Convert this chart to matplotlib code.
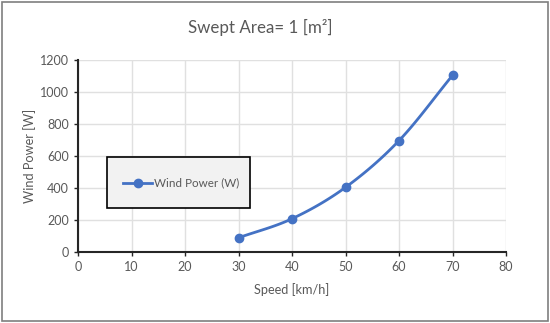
import numpy as np
import matplotlib.pyplot as plt
from matplotlib.patches import Rectangle

# data
speed = [30, 40, 50, 60, 70]
power = [89, 208, 404, 696, 1104]
x_ticks = [0, 10, 20, 30, 40, 50, 60, 70, 80]
y_ticks = [0, 200, 400, 600, 800, 1000, 1200]

plt.rcParams['font.family'] = ['Lato', 'DejaVu Sans']
grey_txt = '#595959'
blue = '#4472C4'


# Excel-like smoothed line (Catmull-Rom through the points)
def smooth(xs, ys, n=30):
    xs = np.asarray(xs, float)
    ys = np.asarray(ys, float)
    px = np.concatenate([[2 * xs[0] - xs[1]], xs, [2 * xs[-1] - xs[-2]]])
    py = np.concatenate([[2 * ys[0] - ys[1]], ys, [2 * ys[-1] - ys[-2]]])
    t = np.linspace(0, 1, n)
    ox, oy = [], []
    for i in range(1, len(px) - 2):
        for arr, out in ((px, ox), (py, oy)):
            p0, p1, p2, p3 = arr[i - 1], arr[i], arr[i + 1], arr[i + 2]
            out.extend(0.5 * (2 * p1 + (-p0 + p2) * t
                              + (2 * p0 - 5 * p1 + 4 * p2 - p3) * t ** 2
                              + (-p0 + 3 * p1 - 3 * p2 + p3) * t ** 3))
    return ox, oy


fig = plt.figure(figsize=(5.5, 3.23), dpi=100)
ax = fig.add_axes([78 / 550, 1 - 252 / 323, 428 / 550, 192 / 323])

sx, sy = smooth(speed, power)
ax.plot(sx, sy, color=blue, lw=2, zorder=3)
ax.plot(speed, power, 'o', color=blue, ms=6, zorder=4)

ax.set_xlim(0, 80)
ax.set_ylim(0, 1200)
ax.set_xticks(x_ticks)
ax.set_yticks(y_ticks)
ax.grid(True, color='#e0e0e0', lw=1)
ax.set_axisbelow(True)
for s in ['top', 'right']:
    ax.spines[s].set_visible(False)
for s in ['left', 'bottom']:
    ax.spines[s].set_color('#262626')
    ax.spines[s].set_linewidth(1.5)
ax.tick_params(colors='#262626', length=3, width=1, labelcolor=grey_txt, labelsize=9)
ax.set_xlabel('Speed [km/h]', color=grey_txt, fontsize=9.2, labelpad=7)
ax.set_ylabel('Wind Power [W]', color=grey_txt, fontsize=9.2, labelpad=3)
fig.text(0.473, 1 - 27 / 323, 'Swept Area= 1 [m²]', ha='center', va='center',
         color=grey_txt, fontsize=12.2)

# legend box
fig.patches.append(Rectangle((107 / 550, 1 - 208 / 323), 143 / 550, 51 / 323,
                             transform=fig.transFigure, facecolor='#f2f2f2',
                             edgecolor='black', lw=1.2, zorder=5))
ly = 1 - 183 / 323
fig.lines.append(plt.Line2D([123 / 550, 137.5 / 550, 152 / 550], [ly, ly, ly],
                            transform=fig.transFigure, color=blue, lw=2,
                            marker='o', markevery=[1], ms=6, zorder=6))
fig.text(154 / 550, ly, 'Wind Power (W)', va='center', ha='left', color=grey_txt,
         fontsize=8.4, zorder=7)

# outer frame
fig.patches.append(Rectangle((2 / 550, 2 / 323), 546 / 550, 319 / 323,
                             transform=fig.transFigure, fill=False,
                             edgecolor='#7f7f7f', lw=1.2))

fig.savefig('out.png', dpi=100)
